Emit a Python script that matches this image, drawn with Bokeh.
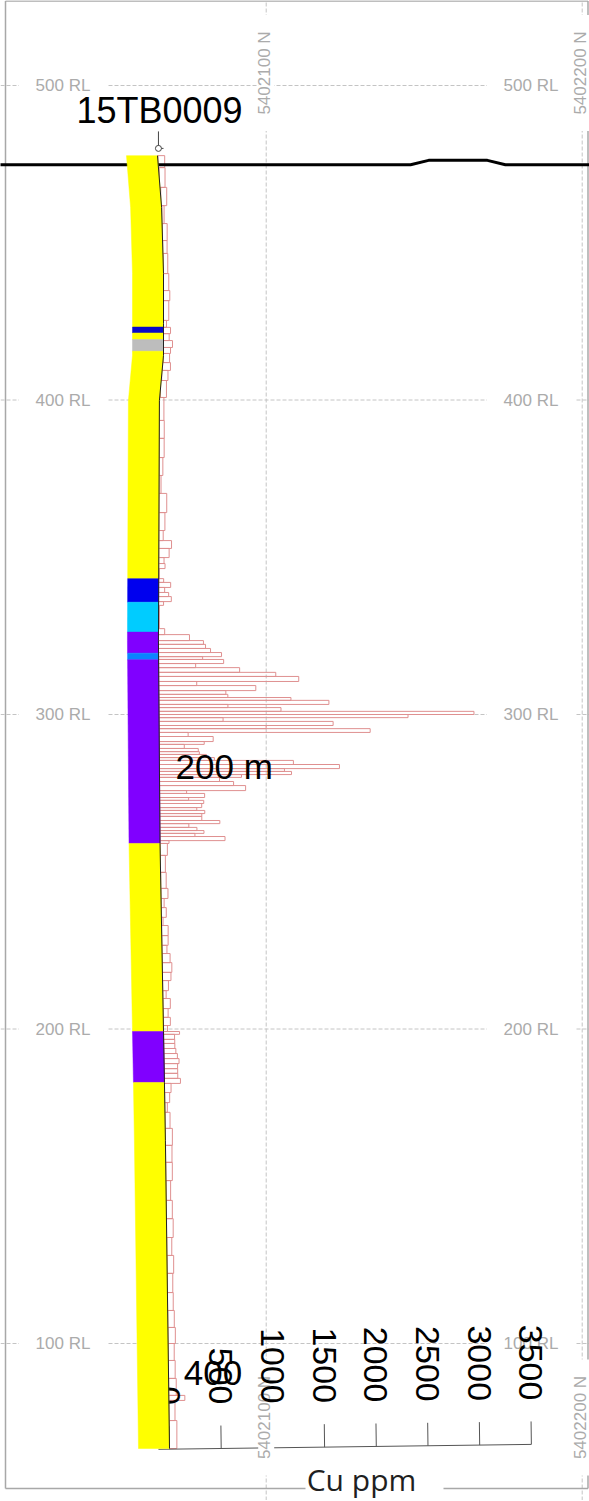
import math
import numpy as np
from bokeh.plotting import figure
from bokeh.models import Range1d
from bokeh.core.properties import value
from bokeh.embed import file_html
from bokeh.resources import INLINE

# ---------------- data ----------------
hole_id = "15TB0009"
collar_n, collar_rl = 65.9, 480.0          # northing (m, +5402000) / RL (m)

# surveyed hole trace (northing offset, RL)
trace_n = [65.6, 66.9, 67.5, 67.5, 67.5, 66.2, 65.9, 66.4, 67.5, 67.8, 68.1, 69.4]
trace_rl = [477.7, 461.2, 440.2, 424.3, 414.2, 399.8, 323.5, 259.0, 199.2, 183.0, 164.6, 66.6]

# lithology log
litho_top = [477.7, 423.2, 421.3, 419.2, 415.5, 343.2, 335.7, 326.2, 319.5, 317.4, 259.0, 199.2, 183.0]
litho_bot = [423.2, 421.3, 419.2, 415.5, 343.2, 335.7, 326.2, 319.5, 317.4, 259.0, 199.2, 183.0, 66.6]
litho_unit = ["Y", "DB", "Y", "GR", "Y", "B", "C", "P", "AZ", "P", "Y", "P", "Y"]
litho_colors = {"Y": "#FFFF00", "DB": "#0A0AC8", "GR": "#BDBDBD", "B": "#0000EE",
                "C": "#00CCFF", "P": "#8000FF", "AZ": "#0A84FF"}

# Cu assays: interval boundaries (RL) and values (ppm)
cu_rl_bounds = [477.7, 473.9, 467.6, 461.8, 456.1, 450.7, 446.6, 440.2, 434.8, 431.6,
                425.3, 423.1, 421.1, 418.9, 416.7, 414.8, 411.9, 409.4, 406.2, 400.8,
                393.5, 387.8, 381.7, 376.0, 370.3, 364.2, 358.5, 355.3, 352.8, 349.9,
                348.0, 346.4, 343.2, 342.0, 340.4, 338.8, 337.5, 335.9, 334.7, 327.3,
                325.4, 323.5, 322.3, 321.0, 319.7, 318.4, 317.5, 316.2, 314.9, 313.4,
                312.1, 310.5, 309.2, 307.6, 306.4, 305.4, 304.5, 303.2, 302.2, 301.0,
                300.0, 299.0, 297.8, 296.5, 295.5, 294.3, 293.0, 291.4, 290.5, 289.2,
                288.2, 287.3, 286.3, 285.4, 284.1, 282.8, 281.9, 280.9, 280.0, 278.7,
                277.4, 275.8, 274.9, 273.6, 272.7, 271.7, 270.4, 269.5, 268.5, 267.6,
                266.3, 265.3, 264.1, 263.1, 262.2, 261.2, 259.9, 259.0, 255.2, 249.8,
                244.7, 241.5, 238.6, 235.5, 232.9, 229.7, 226.6, 224.0, 221.1, 218.0,
                215.4, 212.2, 209.7, 206.5, 203.7, 201.1, 199.2, 198.3, 196.7, 195.4,
                193.8, 192.2, 190.6, 189.0, 187.4, 185.9, 184.3, 182.7, 179.8, 176.6,
                173.5, 168.4, 163.0, 157.6, 151.8, 145.5, 139.7, 133.7, 128.0, 122.3,
                116.2, 110.5, 105.1, 100.0, 94.6, 88.9, 83.5, 81.9, 75.5, 66.6]
cu_ppm = [65, 56, 58, 22, 47, 42, 44, 51, 61, 51,
          29, 68, 55, 87, 68, 61, 77, 61, 58, 44,
          48, 48, 36, 19, 75, 58, 42, 123, 100, 51,
          61, 5, 48, 116, 58, 97, 123, 48, 8, 60,
          300, 435, 455, 503, 609, 426, 629, 358, 783, 1132,
          1354, 367, 938, 648, 667, 1277, 1644, 667, 1180, 3046,
          2408, 619, 1683, 1035, 2041, 280, 522, 435, 242, 377,
          387, 455, 532, 1296, 1741, 1209, 1277, 793, 580, 716,
          832, 261, 435, 280, 426, 406, 358, 435, 406, 406,
          580, 280, 358, 426, 338, 629, 87, 70, 48, 53,
          68, 29, 48, 15, 63, 61, 48, 77, 92, 82,
          56, 32, 71, 48, 68, 39, 155, 106, 107, 107,
          116, 130, 145, 130, 130, 130, 155, 63, 48, 24,
          48, 68, 62, 63, 44, 58, 64, 48, 64, 53,
          55, 63, 71, 58, 65, 73, 155, 58, 73]

cu_ticks = [0, 500, 1000, 1500, 2000, 2500, 3000, 3500]
rl_ticks = [500, 400, 300, 200, 100]
n_ticks = [100, 200]           # northing offsets from 5402000
n_base = 5402000

topo_n = [10.0, 145.7, 151.4, 170.0, 175.7, 210.0]
topo_rl = [474.8, 474.8, 476.2, 476.2, 474.8, 474.8]

depth_text = ["200 m", "400"]
depth_n = [71.3, 73.9]
depth_rl = [283.5, 90.5]

# ---------------- layout helpers ----------------
PX_X, PX_Y = 3.16, 3.145          # pixels per metre
def nx(px):                       # page pixel -> northing offset
    return 100 + (px - 265.7) / PX_X
def ry(py):                       # page pixel -> RL
    return 500 - (py - 85) / PX_Y

W, H = 589, 1500
x0, x1 = nx(0), nx(W)
y1, y0 = ry(0), ry(H)

STRIP_W = 31 / PX_X
PPM_M = (51.7 / 500) / PX_X      # metres per ppm in the histogram
FONT = value("Liberation Sans")

p = figure(width=W, height=H, x_range=Range1d(x0, x1), y_range=Range1d(y0, y1),
           output_backend="svg", toolbar_location=None, title=None,
           x_axis_location=None, y_axis_location=None, min_border=0,
           outline_line_color=None, background_fill_color="white",
           border_fill_color="white")
p.xgrid.visible = False
p.ygrid.visible = False

GRID_C = "#c4c4c4"
LAB_C = "#ababab"

# grid lines
p.segment(x0=[x0] * len(rl_ticks), x1=[x1] * len(rl_ticks), y0=rl_ticks, y1=rl_ticks,
          line_color=GRID_C, line_width=1, line_dash="4 2")
p.segment(x0=n_ticks, x1=n_ticks, y0=[y0] * len(n_ticks), y1=[y1] * len(n_ticks),
          line_color=GRID_C, line_width=1, line_dash="4 2")

# frame border (bottom border has a gap for the "Cu ppm" caption)
BC = "#a8a8a8"
p.line([nx(5), nx(5)], [ry(1488), ry(0.5)], line_color=BC, line_width=1.5)
p.line([nx(5), nx(587.5)], [ry(0.5), ry(0.5)], line_color=BC, line_width=1.5)
p.line([nx(587.5), nx(587.5)], [ry(0.5), ry(1488)], line_color=BC, line_width=1.5)
p.line([nx(5), nx(305)], [ry(1488), ry(1488)], line_color=BC, line_width=1.5)
p.line([nx(443), nx(587.5)], [ry(1488), ry(1488)], line_color=BC, line_width=1.5)

# trace interpolation (geometry only)
tr_rl_inc = np.array(trace_rl[::-1])
tr_n_inc = np.array(trace_n[::-1])
def trace_at(rl):
    return np.interp(rl, tr_rl_inc, tr_n_inc)

# Cu histogram bars
tops = np.array(cu_rl_bounds[:-1])
bots = np.array(cu_rl_bounds[1:])
mids = (tops + bots) / 2
lefts = trace_at(mids)
rights = lefts + np.array(cu_ppm) * PPM_M
p.quad(left=lefts, right=rights, top=tops, bottom=bots, fill_color=None,
       line_color="#df9090", line_width=1)

# topography
p.line(topo_n, topo_rl, line_color="black", line_width=3)

# histogram axis (perpendicular to hole at its end)
vn = trace_n[-1] - trace_n[-2]
vr = trace_rl[-1] - trace_rl[-2]
nrm = math.hypot(vn, vr)
ux, uy = -vr / nrm, vn / nrm          # along axis (to the right)
upx, upy = -vn / nrm, -vr / nrm       # up, away from hole end
ox, oy = trace_n[-1], trace_rl[-1] - 0.2
d_end = max(cu_ticks) * PPM_M
p.line([ox - 3.5 * ux, ox + d_end * ux], [oy - 3.5 * uy, oy + d_end * uy],
       line_color="#555555", line_width=1)
td = np.array(cu_ticks) * PPM_M
bx, by = ox + td * ux, oy + td * uy
p.segment(x0=bx, y0=by, x1=bx + 7.3 * upx, y1=by + 7.3 * upy,
          line_color="#555555", line_width=1)

# grid labels with white boxes
lab_left_x, lab_right_x = nx(62.5), nx(530.5)
lab_top_y, lab_bot_y = ry(72.5), ry(1417)
rl_lx = [lab_left_x] * len(rl_ticks) + [lab_right_x] * len(rl_ticks)
rl_ly = rl_ticks + rl_ticks
p.rect(x=rl_lx, y=rl_ly, width=88, height=16, width_units="screen", height_units="screen",
       fill_color="white", line_color=None)
p.text(x=rl_lx, y=rl_ly, text=[f"{v} RL" for v in rl_ly], text_font=FONT,
       text_font_size="17px", text_color=LAB_C, text_align="center", text_baseline="middle")
n_lx = n_ticks + n_ticks
n_ly = [lab_top_y] * len(n_ticks) + [lab_bot_y] * len(n_ticks)
p.rect(x=n_lx, y=n_ly, width=16, height=116, width_units="screen", height_units="screen",
       fill_color="white", line_color=None)
p.text(x=n_lx, y=n_ly, text=[f"{n_base + v} N" for v in n_lx], angle=math.pi / 2,
       x_offset=-2, text_font=FONT, text_font_size="17px", text_color=LAB_C,
       text_align="center", text_baseline="middle")

# histogram tick labels
p.text(x=bx + 14.0 * upx, y=by + 14.0 * upy, text=[str(t) for t in cu_ticks],
       angle=-math.pi / 2, text_font=FONT, text_font_size="34px", text_color="black",
       text_align="right", text_baseline="middle")

# lithology strip along the trace
xs, ys, cols = [], [], []
for top, bot, unit in zip(litho_top, litho_bot, litho_unit):
    inner = [r for r in trace_rl if bot < r < top]
    rls = [top] + inner + [bot]
    right = [float(trace_at(r)) for r in rls]
    left = [v - STRIP_W for v in right]
    xs.append(right + left[::-1])
    ys.append(rls + rls[::-1])
    cols.append(litho_colors[unit])
p.patches(xs, ys, fill_color=cols, line_color=cols, line_width=0.5)

# hole trace and collar
p.line(trace_n, trace_rl, line_color="#222222", line_width=1)
p.segment(x0=[collar_n], y0=[collar_rl], x1=[collar_n], y1=[collar_rl + 5.4],
          line_color="#444444", line_width=1)
p.segment(x0=[collar_n], y0=[collar_rl], x1=[collar_n + 1.6], y1=[collar_rl],
          line_color="#444444", line_width=1)
p.scatter([collar_n], [collar_rl], marker="circle", size=6, fill_color="white",
          line_color="#444444", line_width=1)

# hole id and depth labels
p.text(x=[nx(159)], y=[ry(110)], text=[hole_id], text_font=FONT, text_font_size="36px",
       text_color="black", text_align="center", text_baseline="middle")
p.text(x=depth_n, y=depth_rl, text=depth_text, text_font=FONT, text_font_size="35px",
       text_color="black", text_align="left", text_baseline="middle")

# caption
p.text(x=[nx(361)], y=[ry(1479)], text=["Cu ppm"], text_font=value("Open Sans"),
       text_font_size="30px", text_color="#1f1f1f", text_align="center",
       text_baseline="middle")

open("out.html", "w").write(file_html(p, INLINE))
